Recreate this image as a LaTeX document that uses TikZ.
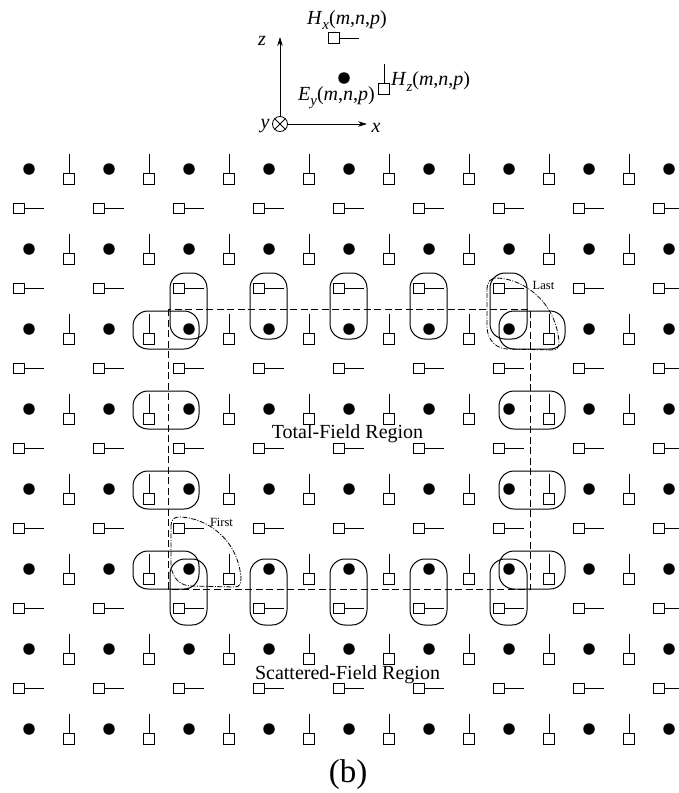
\documentclass[tikz,border=0pt]{standalone}
\usepackage{fontspec}
\setmainfont{Liberation Serif}
\usetikzlibrary{arrows.meta}
\newcommand\fldlab[2]{\textit{#1}\raisebox{-0.28em}{\fontsize{15}{15}\selectfont\textit{#2}}(\textit{m},\textit{n},\textit{p})}
\tikzset{
  fielddot/.style={circle,fill=black,inner sep=0pt,minimum size=11.5pt},
  fieldsq/.style={rectangle,draw=black,fill=white,line width=0.8pt,inner sep=0pt,minimum size=10.5pt},
  stem/.style={line width=1pt},
  groupbox/.style={line width=1pt,rounded corners=15pt},
  boundary/.style={line width=1pt,dash pattern=on 7pt off 3.5pt},
  order/.style={line width=0.8pt,dash pattern=on 5pt off 1.5pt on 1pt off 1.5pt},
  axis/.style={line width=0.8pt,-{Stealth[length=9pt,width=5.5pt]}},
  lab/.style={inner sep=0pt,font=\fontsize{20}{20}\selectfont},
  small/.style={inner sep=0pt,font=\fontsize{12.5}{13}\selectfont},
}
\begin{document}
\begin{tikzpicture}[x=1pt,y=-1pt]
\useasboundingbox (0,0) rectangle (678,793);
% grid
\foreach \j in {0,...,7}{
  \foreach \i in {0,...,8}{
    \node[fielddot] (e\i\j) at ({29+80*\i},{169+80*\j}) {};
  }
  \foreach \i in {0,...,7}{
    \node[fieldsq] (hz\i\j) at ({69+80*\i},{179+80*\j}) {};
    \draw[stem] (hz\i\j.north) -- ++(0,-19);
  }
}
\foreach \j in {0,...,6}{
  \foreach \i in {0,...,8}{
    \node[fieldsq] (hx\i\j) at ({19+80*\i},{208.5+80*\j}) {};
    \draw[stem] (hx\i\j.east) -- ++(19,0);
  }
}
% boundary
\draw[boundary] (168,309) rectangle (530,589);
% vertical groups
\foreach \x in {170,250,330,410,490}{
  \draw[groupbox] (\x,273) rectangle ({\x+37},339);
  \draw[groupbox] (\x,559) rectangle ({\x+37},625);
}
% horizontal groups
\foreach \y in {311,391,471,551}{
  \draw[groupbox] (133,\y) rectangle (199,{\y+38});
  \draw[groupbox] (499,\y) rectangle (565,{\y+38});
}
% update order curves
\draw[order] (171,527) .. controls (171,519) and (174,517) .. (180,517)
  .. controls (208,518) and (238,540) .. (241,578)
  .. controls (241,584) and (240,587) .. (234,587)
  -- (192,586) .. controls (180,586) and (172,578) .. (171,565) -- cycle;
\draw[order] (487,290) .. controls (487,282) and (490,278) .. (497,278)
  .. controls (525,279) and (556,303) .. (559,342)
  .. controls (559,348) and (557,350) .. (551,350)
  -- (508,349) .. controls (497,349) and (488,341) .. (487,328) -- cycle;
\node[small] (last) at (543.5,285) {Last};
\node[small] (first) at (221.5,522) {First};
% legend axes
\node[circle,draw,line width=0.8pt,fill=white,inner sep=0pt,minimum size=15pt] (orig) at (280,124) {};
\draw[line width=0.8pt] (orig.45) -- (orig.225) (orig.135) -- (orig.315);
\coordinate (ztip) at (280,37);
\coordinate (xtip) at (367,124);
\draw[axis] (orig.north) -- (ztip);
\draw[axis] (orig.east) -- (xtip);
\node[lab] (zl) at (262,41) {\textit{z}};
\node[lab] (xl) at (376,128) {\textit{x}};
\node[lab] (yl) at (265,126) {\textit{y}};
% legend fields
\node[fielddot] (ele) at (344,78) {};
\node[fieldsq] (hxle) at (334,38) {};
\draw[stem] (hxle.east) -- ++(19,0);
\node[fieldsq] (hzle) at (384,89) {};
\draw[stem] (hzle.north) -- ++(0,-19);
\node[lab,anchor=base] (hxl) at (347,24) {\fldlab{H}{x}};
\node[lab,anchor=base west] (hzl) at (391,85.5) {\fldlab{H}{z}};
\node[lab,anchor=base east] (eyl) at (375,100) {\fldlab{E}{y}};
% region labels
\node[lab] (tot) at (347.5,434) {Total-Field Region};
\node[lab] (sca) at (347.5,675) {Scattered-Field Region};
\node[inner sep=0pt,font=\fontsize{33}{33}\selectfont] (cap) at (348,775) {(b)};
\end{tikzpicture}
\end{document}
